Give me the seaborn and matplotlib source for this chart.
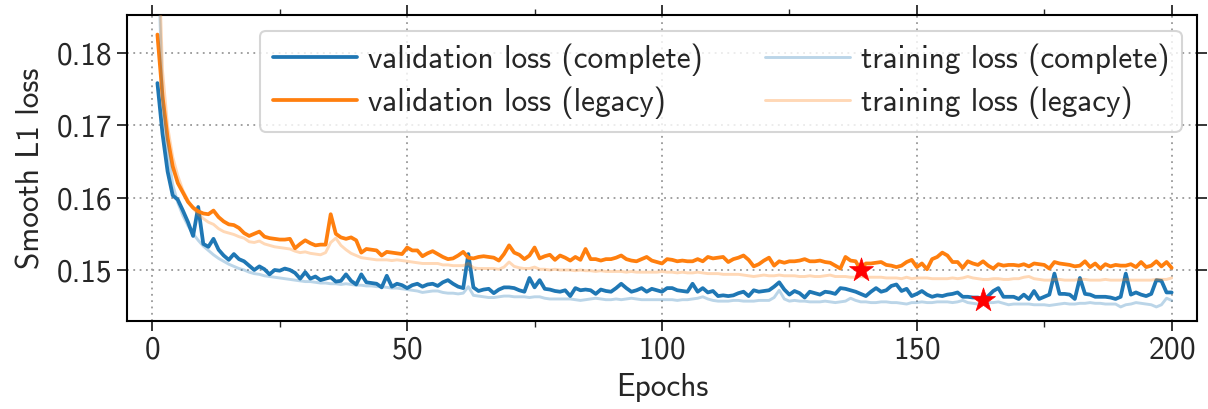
import numpy as np
import pandas as pd
import matplotlib
matplotlib.use("Agg")
import matplotlib.pyplot as plt
from matplotlib.ticker import MultipleLocator
import seaborn as sns

epochs = list(range(1, 201))

val_complete = [
    0.1758, 0.1688, 0.1636, 0.1603, 0.1597, 0.1582, 0.1566, 0.1547, 0.1587, 0.1536,
    0.1532, 0.1543, 0.1528, 0.1520, 0.1514, 0.1522, 0.1515, 0.1512, 0.1506, 0.1500,
    0.1505, 0.1501, 0.1494, 0.1500, 0.1499, 0.1502, 0.1500, 0.1496, 0.1488, 0.1497,
    0.1488, 0.1491, 0.1486, 0.1488, 0.1490, 0.1484, 0.1485, 0.1494, 0.1485, 0.1480,
    0.1494, 0.1483, 0.1482, 0.1481, 0.1476, 0.1492, 0.1477, 0.1481, 0.1479, 0.1475,
    0.1479, 0.1481, 0.1477, 0.1480, 0.1481, 0.1478, 0.1483, 0.1486, 0.1481, 0.1477,
    0.1475, 0.1522, 0.1476, 0.1471, 0.1473, 0.1474, 0.1468, 0.1473, 0.1476, 0.1476,
    0.1475, 0.1472, 0.1470, 0.1489, 0.1476, 0.1486, 0.1474, 0.1473, 0.1471, 0.1470,
    0.1472, 0.1464, 0.1475, 0.1472, 0.1473, 0.1472, 0.1467, 0.1473, 0.1471, 0.1470,
    0.1475, 0.1481, 0.1475, 0.1470, 0.1472, 0.1475, 0.1470, 0.1474, 0.1472, 0.1470,
    0.1475, 0.1475, 0.1472, 0.1471, 0.1470, 0.1481, 0.1470, 0.1475, 0.1469, 0.1471,
    0.1464, 0.1465, 0.1464, 0.1465, 0.1468, 0.1470, 0.1464, 0.1472, 0.1470, 0.1471,
    0.1472, 0.1477, 0.1483, 0.1473, 0.1466, 0.1471, 0.1468, 0.1462, 0.1470, 0.1468,
    0.1466, 0.1470, 0.1469, 0.1467, 0.1475, 0.1474, 0.1472, 0.1470, 0.1467, 0.1464,
    0.1470, 0.1475, 0.1470, 0.1472, 0.1478, 0.1480, 0.1471, 0.1474, 0.1464, 0.1467,
    0.1471, 0.1466, 0.1463, 0.1465, 0.1464, 0.1466, 0.1467, 0.1469, 0.1463, 0.1463,
    0.1462, 0.1462, 0.1459, 0.1464, 0.1471, 0.1475, 0.1463, 0.1463, 0.1463, 0.1460,
    0.1466, 0.1460, 0.1471, 0.1460, 0.1463, 0.1466, 0.1495, 0.1467, 0.1467, 0.1466,
    0.1460, 0.1489, 0.1467, 0.1466, 0.1463, 0.1463, 0.1463, 0.1462, 0.1460, 0.1463,
    0.1495, 0.1466, 0.1469, 0.1466, 0.1464, 0.1467, 0.1486, 0.1485, 0.1469, 0.1469,
]

val_legacy = [
    0.1825, 0.1740, 0.1682, 0.1643, 0.1620, 0.1607, 0.1594, 0.1586, 0.1581, 0.1578,
    0.1577, 0.1582, 0.1573, 0.1567, 0.1563, 0.1562, 0.1558, 0.1551, 0.1547, 0.1550,
    0.1553, 0.1546, 0.1544, 0.1543, 0.1542, 0.1542, 0.1543, 0.1530, 0.1536, 0.1541,
    0.1537, 0.1534, 0.1535, 0.1535, 0.1577, 0.1550, 0.1545, 0.1543, 0.1545, 0.1541,
    0.1524, 0.1529, 0.1528, 0.1527, 0.1520, 0.1525, 0.1524, 0.1523, 0.1522, 0.1531,
    0.1527, 0.1527, 0.1519, 0.1523, 0.1526, 0.1522, 0.1518, 0.1515, 0.1516, 0.1520,
    0.1525, 0.1517, 0.1516, 0.1518, 0.1519, 0.1518, 0.1517, 0.1513, 0.1522, 0.1534,
    0.1524, 0.1521, 0.1515, 0.1520, 0.1531, 0.1516, 0.1519, 0.1521, 0.1514, 0.1520,
    0.1517, 0.1513, 0.1518, 0.1514, 0.1529, 0.1515, 0.1515, 0.1513, 0.1515, 0.1515,
    0.1517, 0.1520, 0.1515, 0.1513, 0.1512, 0.1515, 0.1518, 0.1513, 0.1511, 0.1509,
    0.1515, 0.1514, 0.1512, 0.1513, 0.1512, 0.1512, 0.1515, 0.1512, 0.1518, 0.1516,
    0.1517, 0.1518, 0.1511, 0.1515, 0.1517, 0.1520, 0.1514, 0.1505, 0.1508, 0.1513,
    0.1517, 0.1506, 0.1512, 0.1510, 0.1512, 0.1512, 0.1513, 0.1515, 0.1512, 0.1512,
    0.1513, 0.1511, 0.1510, 0.1506, 0.1502, 0.1518, 0.1513, 0.1512, 0.1500, 0.1509,
    0.1509, 0.1510, 0.1511, 0.1507, 0.1506, 0.1504, 0.1506, 0.1511, 0.1514, 0.1504,
    0.1509, 0.1501, 0.1515, 0.1518, 0.1524, 0.1520, 0.1511, 0.1511, 0.1503, 0.1512,
    0.1509, 0.1507, 0.1512, 0.1506, 0.1502, 0.1508, 0.1506, 0.1507, 0.1507, 0.1506,
    0.1508, 0.1505, 0.1509, 0.1508, 0.1507, 0.1502, 0.1511, 0.1509, 0.1508, 0.1507,
    0.1505, 0.1506, 0.1512, 0.1504, 0.1509, 0.1502, 0.1508, 0.1505, 0.1507, 0.1506,
    0.1506, 0.1508, 0.1504, 0.1511, 0.1504, 0.1506, 0.1512, 0.1505, 0.1511, 0.1503,
]

train_complete = [
    0.1960, 0.1735, 0.1665, 0.1618, 0.1593, 0.1575, 0.1561, 0.1550, 0.1541, 0.1533,
    0.1527, 0.1521, 0.1516, 0.1512, 0.1508, 0.1505, 0.1502, 0.1500, 0.1497, 0.1495,
    0.1494, 0.1492, 0.1491, 0.1490, 0.1489, 0.1488, 0.1487, 0.1486, 0.1485, 0.1484,
    0.1484, 0.1483, 0.1482, 0.1482, 0.1481, 0.1481, 0.1480, 0.1481, 0.1480, 0.1479,
    0.1479, 0.1478, 0.1478, 0.1477, 0.1477, 0.1476, 0.1475, 0.1475, 0.1474, 0.1473,
    0.1472, 0.1471, 0.1469, 0.1470, 0.1471, 0.1471, 0.1469, 0.1468, 0.1468, 0.1467,
    0.1468, 0.1477, 0.1465, 0.1464, 0.1463, 0.1462, 0.1462, 0.1463, 0.1464, 0.1464,
    0.1463, 0.1463, 0.1463, 0.1462, 0.1463, 0.1463, 0.1461, 0.1460, 0.1460, 0.1460,
    0.1460, 0.1460, 0.1459, 0.1458, 0.1459, 0.1460, 0.1461, 0.1460, 0.1459, 0.1459,
    0.1460, 0.1459, 0.1460, 0.1461, 0.1460, 0.1459, 0.1459, 0.1459, 0.1459, 0.1459,
    0.1459, 0.1459, 0.1458, 0.1459, 0.1459, 0.1460, 0.1461, 0.1463, 0.1460, 0.1458,
    0.1457, 0.1457, 0.1457, 0.1458, 0.1458, 0.1457, 0.1457, 0.1457, 0.1458, 0.1458,
    0.1458, 0.1462, 0.1472, 0.1460, 0.1457, 0.1458, 0.1457, 0.1457, 0.1456, 0.1456,
    0.1456, 0.1457, 0.1456, 0.1455, 0.1456, 0.1457, 0.1461, 0.1458, 0.1456, 0.1456,
    0.1455, 0.1455, 0.1456, 0.1456, 0.1455, 0.1455, 0.1454, 0.1453, 0.1455, 0.1455,
    0.1456, 0.1455, 0.1455, 0.1456, 0.1456, 0.1456, 0.1455, 0.1456, 0.1458, 0.1455,
    0.1454, 0.1453, 0.1454, 0.1455, 0.1455, 0.1456, 0.1454, 0.1452, 0.1453, 0.1453,
    0.1453, 0.1453, 0.1452, 0.1452, 0.1452, 0.1451, 0.1452, 0.1453, 0.1454, 0.1453,
    0.1453, 0.1454, 0.1454, 0.1455, 0.1454, 0.1454, 0.1453, 0.1453, 0.1453, 0.1449,
    0.1452, 0.1453, 0.1455, 0.1454, 0.1453, 0.1452, 0.1449, 0.1452, 0.1461, 0.1458,
]

train_legacy = [
    0.1990, 0.1775, 0.1698, 0.1656, 0.1630, 0.1610, 0.1596, 0.1585, 0.1577, 0.1571,
    0.1566, 0.1563, 0.1557, 0.1553, 0.1551, 0.1549, 0.1546, 0.1544, 0.1539, 0.1538,
    0.1540, 0.1536, 0.1534, 0.1532, 0.1531, 0.1530, 0.1529, 0.1526, 0.1524, 0.1525,
    0.1523, 0.1522, 0.1521, 0.1524, 0.1538, 0.1544, 0.1534, 0.1528, 0.1523, 0.1520,
    0.1517, 0.1516, 0.1515, 0.1514, 0.1514, 0.1514, 0.1513, 0.1514, 0.1513, 0.1512,
    0.1511, 0.1510, 0.1509, 0.1509, 0.1509, 0.1509, 0.1507, 0.1507, 0.1506, 0.1506,
    0.1506, 0.1509, 0.1503, 0.1502, 0.1502, 0.1502, 0.1502, 0.1501, 0.1504, 0.1511,
    0.1505, 0.1503, 0.1502, 0.1502, 0.1504, 0.1501, 0.1501, 0.1500, 0.1501, 0.1500,
    0.1500, 0.1500, 0.1499, 0.1500, 0.1499, 0.1499, 0.1498, 0.1499, 0.1498, 0.1498,
    0.1498, 0.1498, 0.1497, 0.1498, 0.1497, 0.1497, 0.1497, 0.1497, 0.1497, 0.1498,
    0.1497, 0.1497, 0.1496, 0.1497, 0.1496, 0.1496, 0.1497, 0.1496, 0.1495, 0.1495,
    0.1495, 0.1494, 0.1494, 0.1494, 0.1494, 0.1493, 0.1492, 0.1491, 0.1492, 0.1493,
    0.1492, 0.1492, 0.1493, 0.1492, 0.1492, 0.1492, 0.1491, 0.1491, 0.1492, 0.1491,
    0.1491, 0.1492, 0.1493, 0.1491, 0.1491, 0.1491, 0.1490, 0.1490, 0.1491, 0.1490,
    0.1490, 0.1490, 0.1490, 0.1489, 0.1489, 0.1489, 0.1488, 0.1490, 0.1488, 0.1489,
    0.1489, 0.1489, 0.1488, 0.1488, 0.1488, 0.1488, 0.1489, 0.1488, 0.1489, 0.1491,
    0.1489, 0.1488, 0.1487, 0.1487, 0.1488, 0.1488, 0.1487, 0.1487, 0.1488, 0.1488,
    0.1490, 0.1491, 0.1488, 0.1487, 0.1486, 0.1486, 0.1487, 0.1487, 0.1486, 0.1486,
    0.1486, 0.1487, 0.1487, 0.1486, 0.1486, 0.1486, 0.1487, 0.1486, 0.1486, 0.1486,
    0.1487, 0.1486, 0.1486, 0.1486, 0.1486, 0.1486, 0.1487, 0.1487, 0.1487, 0.1489,
]

series_labels = [
    "validation loss (complete)",
    "validation loss (legacy)",
    "training loss (complete)",
    "training loss (legacy)",
]

BLUE = "#1f77b4"
ORANGE = "#ff7f0e"
FS = 22.5

sns.set_style("ticks")
plt.rcParams["font.family"] = ["cmss10", "DejaVu Sans"]
plt.rcParams["axes.unicode_minus"] = False
plt.rcParams["mathtext.fontset"] = "cm"
plt.rcParams["axes.formatter.use_mathtext"] = True

fig = plt.figure(figsize=(12.08, 4.09), dpi=100)
ax = fig.add_axes([0.105, 0.2159, 0.886, 0.7474])

df = pd.DataFrame({
    "epoch": epochs,
    series_labels[0]: val_complete,
    series_labels[1]: val_legacy,
    series_labels[2]: train_complete,
    series_labels[3]: train_legacy,
})

styles = [
    (series_labels[0], BLUE, 1.0, 2.7),
    (series_labels[1], ORANGE, 1.0, 2.7),
    (series_labels[2], BLUE, 0.3, 2.1),
    (series_labels[3], ORANGE, 0.3, 2.1),
]
for name, color, alpha, lw in styles:
    sns.lineplot(data=df, x="epoch", y=name, ax=ax, color=color, alpha=alpha,
                 linewidth=lw, label=name, zorder=3)

# best validation epochs
best_idx = [int(np.argmin(val_complete)), int(np.argmin(val_legacy))]
best = pd.DataFrame({
    "epoch": [epochs[best_idx[1]], epochs[best_idx[0]]],
    "loss": [val_legacy[best_idx[1]], val_complete[best_idx[0]]],
})
sns.scatterplot(data=best, x="epoch", y="loss", ax=ax, marker="*", s=330,
                color="red", edgecolor="red", linewidth=0.5, zorder=5, legend=False)

ax.set_xlim(-5, 205)
ax.set_ylim(0.143, 0.1852)
ax.xaxis.set_major_locator(MultipleLocator(50))
ax.xaxis.set_minor_locator(MultipleLocator(25))
ax.set_yticks([0.15, 0.16, 0.17, 0.18])
ax.set_yticklabels(["0.15", "0.16", "0.17", "0.18"])

ax.grid(True, which="major", linestyle=(0, (1, 2.5)), color="#999999", linewidth=1.3)
ax.tick_params(axis="both", which="major", direction="out", length=7, width=1.3,
               labelsize=FS, top=True, right=True, bottom=True, left=True)
ax.tick_params(axis="x", which="minor", direction="out", length=4, width=1.0,
               top=True, bottom=True)
for sp in ax.spines.values():
    sp.set_visible(True)
    sp.set_linewidth(1.5)
    sp.set_color("black")

ax.set_xlabel("Epochs", fontsize=FS, labelpad=6)
ax.set_ylabel("Smooth L1 loss", fontsize=FS, labelpad=8)

leg = ax.legend(loc="upper right", ncol=2, fontsize=FS, frameon=True, fancybox=True,
                handlelength=2.7, handletextpad=0.35, columnspacing=2.0,
                borderaxespad=0.5, labelspacing=0.35)
leg.get_frame().set_edgecolor("#cccccc")
leg.get_frame().set_linewidth(1.5)
leg.get_frame().set_alpha(0.8)

fig.savefig("out.png", dpi=100)
